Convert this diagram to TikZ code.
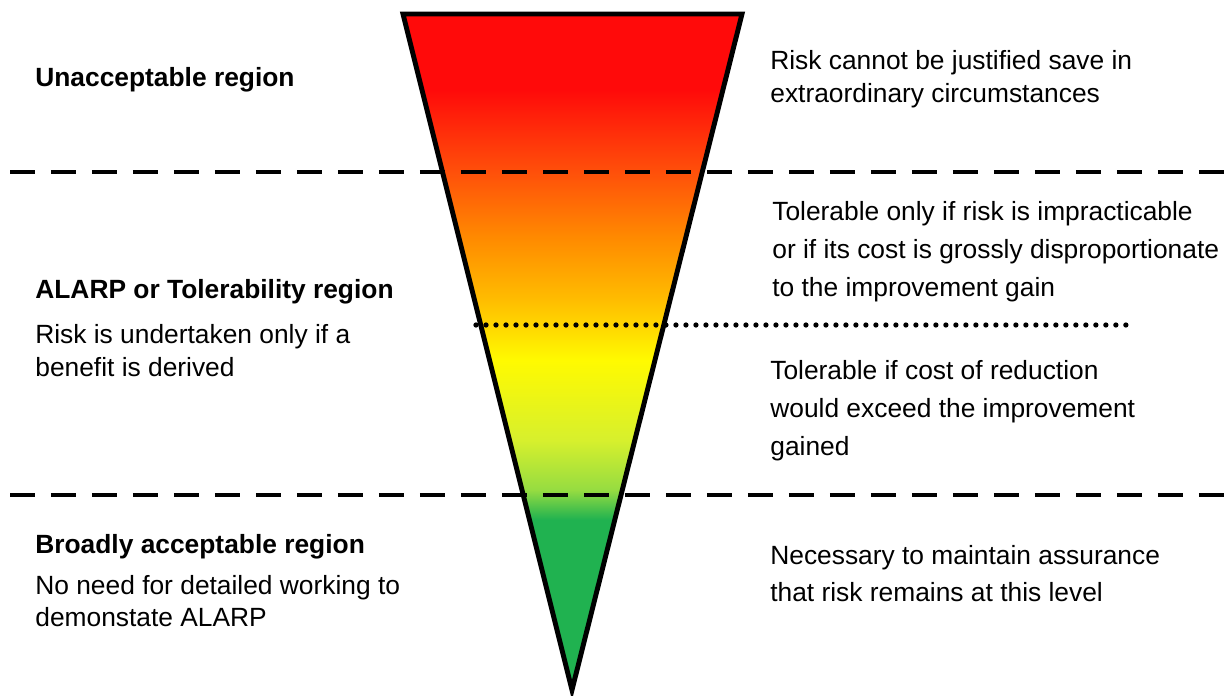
\documentclass[tikz,border=0pt]{standalone}
\usepackage{fontspec}
\setmainfont{Liberation Sans}
\usetikzlibrary{positioning}

\definecolor{riskred}{RGB}{255,10,10}
\definecolor{riskredorange}{RGB}{255,80,10}
\definecolor{riskorange}{RGB}{255,140,0}
\definecolor{riskamber}{RGB}{255,188,0}
\definecolor{riskyellow}{RGB}{255,250,0}
\definecolor{risklime}{RGB}{215,240,45}
\definecolor{risklightgreen}{RGB}{150,220,65}
\definecolor{riskgreen}{RGB}{32,178,80}

\pgfdeclareverticalshading{riskshade}{100bp}{%
  color(0bp)=(riskgreen); color(25bp)=(riskgreen); color(37.6bp)=(riskgreen);
  color(39.8bp)=(risklightgreen); color(43.5bp)=(risklime);
  color(49.4bp)=(riskyellow); color(53.9bp)=(riskamber);
  color(58.3bp)=(riskorange); color(63.3bp)=(riskredorange);
  color(69.4bp)=(riskred); color(75bp)=(riskred); color(100bp)=(riskred)}

\tikzset{
  heading/.style={anchor=west,inner sep=0pt,font=\fontsize{15}{19}\selectfont\bfseries},
  bodytext/.style={anchor=west,inner sep=0pt,align=left,font=\fontsize{15}{#1}\selectfont},
  bandline/.style={line width=2.8pt,dash pattern=on 0.5cm off 0.32cm},
  dotline/.style={line width=3pt,line cap=round,dash pattern=on 0pt off 0.2cm}
}

\begin{document}
\begin{tikzpicture}[x=0.02cm,y=-0.02cm]
\useasboundingbox (0,0) rectangle (1225,696);

% risk triangle
\coordinate (tl) at (403,14);
\coordinate (tr) at (742,14);
\coordinate (apex) at (572,690);
\shadedraw[shading=riskshade,line width=2.8pt,line join=miter] (tl) -- (tr) -- (apex) -- cycle;

% region borders
\coordinate (upl) at (10,172);
\coordinate (upr) at (1225,172);
\coordinate (lol) at (10,495);
\coordinate (lor) at (1225,495);
\coordinate (midl) at (476,325);
\coordinate (midr) at (1130,325);
\draw[bandline] (upl) -- (upr);
\draw[bandline] (lol) -- (lor);
\draw[dotline] (midl) -- (midr);

% left labels
\node[heading] (unacc) at (35,80) {Unacceptable region};
\node[heading] (alarp) at (35,292) {ALARP or Tolerability region};
\node[bodytext=18.8pt] (alarptxt) at (35,351) {Risk is undertaken only if a\\benefit is derived};
\node[heading] (broad) at (35,547) {Broadly acceptable region};
\node[bodytext=18.2pt] (broadtxt) at (35,601) {No need for detailed working to\\demonstate ALARP};

% right labels
\node[bodytext=18.8pt] (unacctxt) at (770,79) {Risk cannot be justified save in\\extraordinary circumstances};
\node[bodytext=21.6pt] (toltxt) at (772,252) {Tolerable only if risk is impracticable\\or if its cost is grossly disproportionate\\to the improvement gain};
\node[bodytext=21.6pt] (costtxt) at (770,411) {Tolerable if cost of reduction\\would exceed the improvement\\gained};
\node[bodytext=21pt] (keeptxt) at (770,574) {Necessary to maintain assurance\\that risk remains at this level};
\end{tikzpicture}
\end{document}
